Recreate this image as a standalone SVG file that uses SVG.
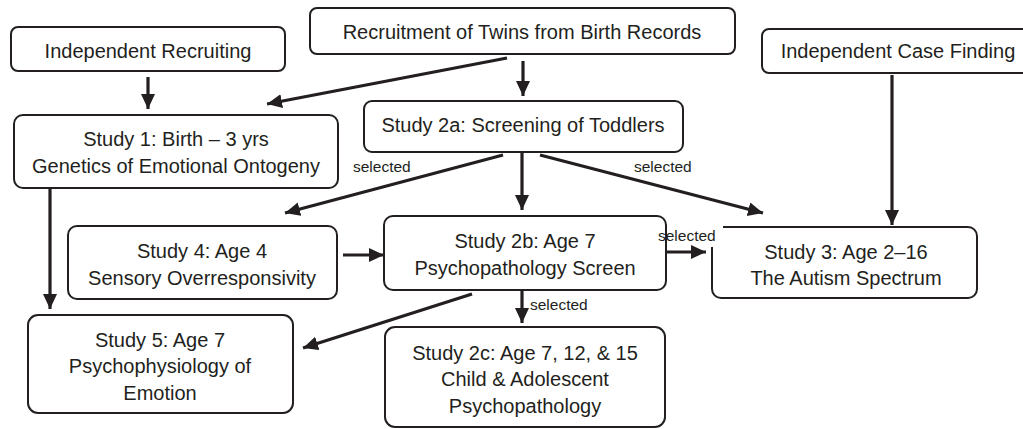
<svg xmlns="http://www.w3.org/2000/svg" width="1023" height="429" viewBox="0 0 1023 429">
<style>
.box{fill:#fff;stroke:#231f20;stroke-width:2}
.t{font-family:"Liberation Sans",Arial,sans-serif;font-size:20px;fill:#231f20;text-anchor:middle}
.s{font-family:"Liberation Sans",Arial,sans-serif;font-size:15.5px;fill:#231f20}
.c{stroke:#231f20;stroke-width:3.2;fill:none;marker-end:url(#ah)}
</style>
<defs>
<marker id="ah" markerUnits="userSpaceOnUse" markerWidth="16" markerHeight="16" refX="15" refY="7" orient="auto">
<path d="M0,0 L15,7 L0,14 Z" fill="#231f20"/>
</marker>
</defs>
<rect width="1023" height="429" fill="#fff"/>
<g id="indep-recruiting">
<rect class="box" x="11" y="27" width="274" height="44" rx="7"/>
<text class="t" x="148" y="58">Independent Recruiting</text>
</g>
<g id="twins">
<rect class="box" x="310" y="8" width="425" height="46" rx="7"/>
<text class="t" x="522" y="39">Recruitment of Twins from Birth Records</text>
</g>
<g id="case-finding">
<rect class="box" x="762" y="29" width="270" height="44" rx="7"/>
<text class="t" x="898" y="58">Independent Case Finding</text>
</g>
<g id="study1">
<rect class="box" x="14" y="115" width="324" height="73" rx="9"/>
<text class="t" x="176" y="146">Study 1: Birth – 3 yrs</text>
<text class="t" x="176" y="173">Genetics of Emotional Ontogeny</text>
</g>
<g id="study2a">
<rect class="box" x="364" y="101" width="319" height="51" rx="8"/>
<text class="t" x="523" y="132">Study 2a: Screening of Toddlers</text>
</g>
<g id="study4">
<rect class="box" x="68" y="226" width="269" height="73" rx="9"/>
<text class="t" x="202" y="258">Study 4: Age 4</text>
<text class="t" x="202" y="285">Sensory Overresponsivity</text>
</g>
<g id="study2b">
<rect class="box" x="384" y="216" width="282" height="74" rx="9"/>
<text class="t" x="525" y="248">Study 2b: Age 7</text>
<text class="t" x="525" y="275">Psychopathology Screen</text>
</g>
<g id="study3">
<path class="box" d="M723,227 H968 A9,9 0 0 1 977,236 V289 A9,9 0 0 1 968,298 H721 A9,9 0 0 1 712,289 V247"/>
<text class="t" x="846" y="259">Study 3: Age 2–16</text>
<text class="t" x="846" y="285">The Autism Spectrum</text>
</g>
<g id="study5">
<rect class="box" x="28" y="315" width="265" height="98" rx="10"/>
<text class="t" x="160" y="347">Study 5: Age 7</text>
<text class="t" x="160" y="373">Psychophysiology of</text>
<text class="t" x="160" y="400">Emotion</text>
</g>
<g id="study2c">
<rect class="box" x="385" y="327" width="280" height="100" rx="10"/>
<text class="t" x="525" y="360">Study 2c: Age 7, 12, &amp; 15</text>
<text class="t" x="525" y="386">Child &amp; Adolescent</text>
<text class="t" x="525" y="413">Psychopathology</text>
</g>
<g id="connectors">
<line class="c" x1="148" y1="77" x2="148" y2="109"/>
<line class="c" x1="507" y1="58" x2="267" y2="104"/>
<line class="c" x1="523" y1="61" x2="523" y2="96"/>
<line class="c" x1="892" y1="75" x2="892" y2="225"/>
<line class="c" x1="503" y1="155" x2="285" y2="213"/>
<line class="c" x1="522" y1="153" x2="522" y2="210"/>
<line class="c" x1="540" y1="155" x2="763" y2="213"/>
<line class="c" x1="50" y1="189" x2="50" y2="309"/>
<line class="c" x1="343" y1="255" x2="384" y2="255"/>
<line class="c" x1="667" y1="252" x2="706" y2="252"/>
<line class="c" x1="472" y1="294" x2="303" y2="348"/>
<line class="c" x1="522" y1="291" x2="522" y2="323"/>
<text class="s" x="353" y="172">selected</text>
<text class="s" x="634" y="172">selected</text>
<text class="s" x="658" y="241">selected</text>
<text class="s" x="530" y="310">selected</text>
</g>
</svg>
